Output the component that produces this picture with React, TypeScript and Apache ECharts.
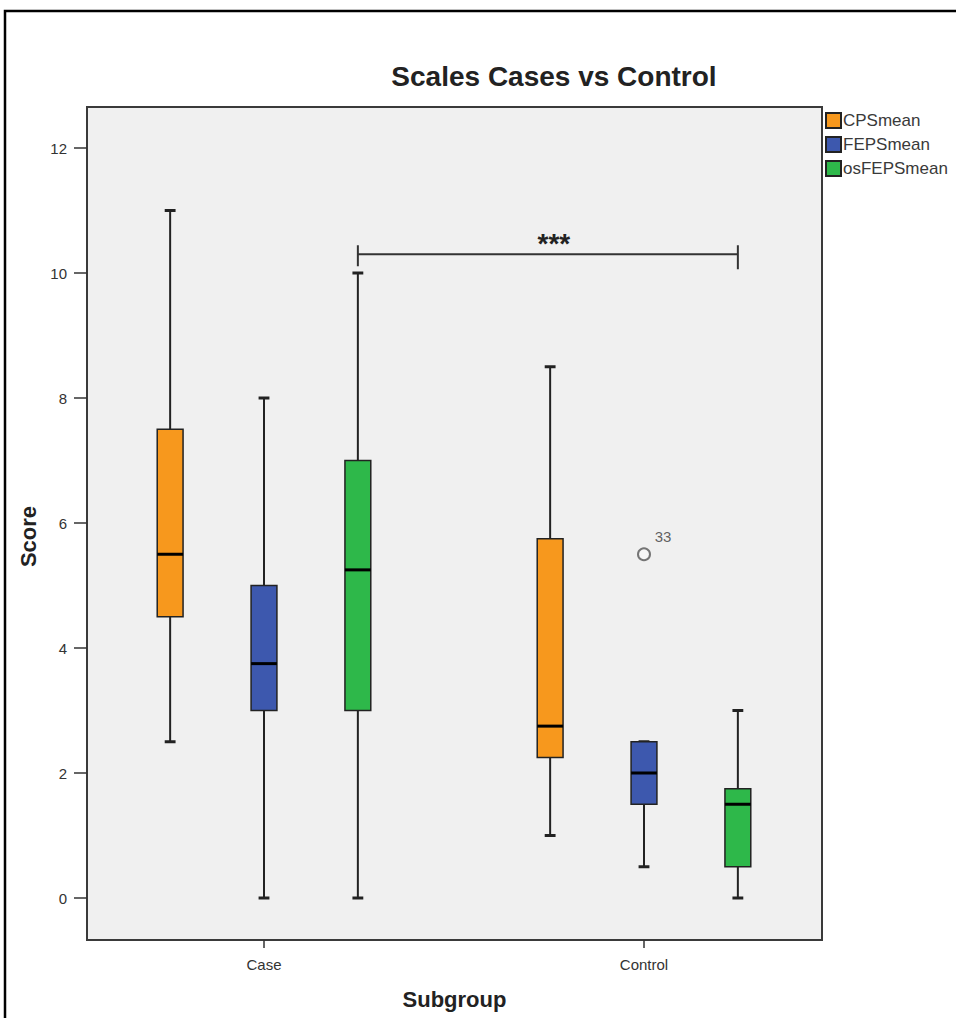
import React, { useEffect, useRef } from 'react';
import * as echarts from 'echarts';

// ---------------- data ----------------
const categories = ['Case', 'Control'];
const seriesNames = ['CPSmean', 'FEPSmean', 'osFEPSmean'];
const seriesColors = ['#F7981D', '#3D58AE', '#2EB84A'];
// [min, Q1, median, Q3, max] for Case, Control
const cpsStats = [
  [2.5, 4.5, 5.5, 7.5, 11],
  [1, 2.25, 2.75, 5.75, 8.5],
];
const fepsStats = [
  [0, 3, 3.75, 5, 8],
  [0.5, 1.5, 2, 2.5, 2.5],
];
const osfepsStats = [
  [0, 3, 5.25, 7, 10],
  [0, 0.5, 1.5, 1.75, 3],
];
const outlierCategory = ['Control'];
const outlierSeries = ['FEPSmean'];
const outlierValues = [5.5];
const outlierLabels = ['33'];
const yTicks = [0, 2, 4, 6, 8, 10, 12];
const sigFromCategory = 'Case';
const sigToCategory = 'Control';
const sigSeries = 'osFEPSmean';
const sigLevel = 10.3;
const sigText = '***';

// ---------------- layout helpers ----------------
const BOX_STEP = 0.247; // distance between boxes inside a cluster (axis units)
const BOX_W = 0.068; // box width (axis units)
const FONT = "'Liberation Sans', Arial, sans-serif";

const allStats = [cpsStats, fepsStats, osfepsStats];

function xPos(catIndex: number, seriesIndex: number) {
  return catIndex + 1 + (seriesIndex - 1) * BOX_STEP;
}

function boxRender(k: number) {
  return (params: any, api: any) => {
    const cat = api.value(0);
    const xv = xPos(cat, k);
    const vals = [1, 2, 3, 4, 5].map((i) => api.value(i));
    const [mn, q1, md, q3, mx] = vals;
    const xc = api.coord([xv, 0])[0];
    const hw = api.size([BOX_W, 0])[0] / 2;
    const y = (v: number) => api.coord([xv, v])[1];
    const capHw = hw * 0.42;
    const stroke = '#222';
    const children: any[] = [
      { type: 'line', shape: { x1: xc, y1: y(mx), x2: xc, y2: y(q3) }, style: { stroke, lineWidth: 2 } },
      { type: 'line', shape: { x1: xc, y1: y(q1), x2: xc, y2: y(mn) }, style: { stroke, lineWidth: 2 } },
      { type: 'line', shape: { x1: xc - capHw, y1: y(mx), x2: xc + capHw, y2: y(mx) }, style: { stroke, lineWidth: 3 } },
      { type: 'line', shape: { x1: xc - capHw, y1: y(mn), x2: xc + capHw, y2: y(mn) }, style: { stroke, lineWidth: 3 } },
      {
        type: 'rect',
        shape: { x: xc - hw, y: y(q3), width: hw * 2, height: y(q1) - y(q3) },
        style: { fill: seriesColors[k], stroke, lineWidth: 1.5 },
      },
      { type: 'line', shape: { x1: xc - hw, y1: y(md), x2: xc + hw, y2: y(md) }, style: { stroke: '#000', lineWidth: 3 } },
    ];
    return { type: 'group', children };
  };
}

export default function App() {
  const ref = useRef<HTMLDivElement>(null);

  useEffect(() => {
    if (!ref.current) return;
    const chart = echarts.init(ref.current, undefined, { renderer: 'svg' });

    const boxSeries = seriesNames.map((name, k) => ({
      name,
      type: 'custom',
      renderItem: boxRender(k),
      itemStyle: { color: seriesColors[k], borderColor: '#222', borderWidth: 1 },
      encode: { x: 0, y: [1, 2, 3, 4, 5] },
      data: allStats[k].map((s, i) => [i, ...s]),
      z: 3,
    }));

    const outlierData = outlierValues.map((v, i) => ({
      value: [xPos(categories.indexOf(outlierCategory[i]), seriesNames.indexOf(outlierSeries[i])), v],
      label: { formatter: outlierLabels[i] },
    }));

    const sigSeriesIdx = seriesNames.indexOf(sigSeries);
    const sigData = [
      [xPos(categories.indexOf(sigFromCategory), sigSeriesIdx), xPos(categories.indexOf(sigToCategory), sigSeriesIdx), sigLevel],
    ];

    const option: any = {
      animation: false,
      backgroundColor: '#ffffff',
      title: {
        text: 'Scales Cases vs Control',
        left: 549,
        top: 57,
        textAlign: 'center',
        textStyle: { fontFamily: FONT, fontSize: 28, fontWeight: 'bold', color: '#222' },
      },
      legend: {
        data: seriesNames,
        orient: 'vertical',
        left: 825,
        top: 112,
        padding: 0,
        itemWidth: 15,
        itemHeight: 15,
        itemGap: 7,
        icon: 'rect',
        textStyle: { fontFamily: FONT, fontSize: 17, lineHeight: 15, color: '#3a3a3a', padding: [0, 0, 0, -3] },
        selectedMode: false,
      },
      grid: {
        left: 87,
        right: 134,
        top: 107,
        bottom: 78,
        show: true,
        backgroundColor: '#F0F0F0',
        borderColor: '#3a3a3a',
        borderWidth: 2,
      },
      xAxis: {
        type: 'value',
        min: 1 - 177 / 380,
        max: 2 + 178 / 380,
        name: 'Subgroup',
        nameLocation: 'middle',
        nameGap: 48,
        nameTextStyle: { fontFamily: FONT, fontSize: 22, fontWeight: 'bold', color: '#222' },
        axisLine: { show: false, onZero: false },
        splitLine: { show: false },
        axisTick: { show: true, length: 8, customValues: [1, 2], lineStyle: { color: '#333', width: 1.5 } },
        axisLabel: {
          customValues: [1, 2],
          formatter: (v: number) => categories[Math.round(v) - 1] ?? '',
          margin: 17,
          fontFamily: FONT,
          fontSize: 15,
          color: '#333',
        },
      },
      yAxis: {
        type: 'value',
        min: -0.672,
        max: 12.656,
        name: 'Score',
        nameLocation: 'middle',
        nameGap: 40,
        nameTextStyle: { fontFamily: FONT, fontSize: 22, fontWeight: 'bold', color: '#222', padding: [0, 26, 0, 0] },
        axisLine: { show: false, onZero: false },
        splitLine: { show: false },
        axisTick: { show: true, length: 13, customValues: yTicks, lineStyle: { color: '#333', width: 1.5 } },
        axisLabel: { customValues: yTicks, margin: 20, fontFamily: FONT, fontSize: 15, color: '#333' },
      },
      graphic: [
        {
          type: 'rect',
          shape: { x: 5, y: 11, width: 1100, height: 1200 },
          style: { fill: 'none', stroke: '#000', lineWidth: 2.5 },
          silent: true,
          z: 100,
        },
      ],
      series: [
        ...boxSeries,
        {
          name: 'outliers',
          type: 'scatter',
          data: outlierData,
          symbol: 'circle',
          symbolSize: 12,
          itemStyle: { color: '#f8f8f8', borderColor: '#555', borderWidth: 2 },
          label: { show: true, position: 'top', distance: 3, offset: [19, 0], fontFamily: FONT, fontSize: 15, color: '#3a3a3a' },
          z: 4,
        },
        {
          name: 'significance',
          type: 'custom',
          data: sigData,
          encode: { x: [0, 1], y: 2 },
          renderItem: (params: any, api: any) => {
            const p1 = api.coord([api.value(0), api.value(2)]);
            const p2 = api.coord([api.value(1), api.value(2)]);
            const stroke = '#333';
            return {
              type: 'group',
              children: [
                { type: 'line', shape: { x1: p1[0], y1: p1[1], x2: p2[0], y2: p2[1] }, style: { stroke, lineWidth: 2 } },
                { type: 'line', shape: { x1: p1[0], y1: p1[1] - 9, x2: p1[0], y2: p1[1] + 12 }, style: { stroke, lineWidth: 2 } },
                { type: 'line', shape: { x1: p2[0], y1: p2[1] - 9, x2: p2[0], y2: p2[1] + 15 }, style: { stroke, lineWidth: 2 } },
                {
                  type: 'text',
                  x: (p1[0] + p2[0]) / 2 + 6,
                  y: p1[1] - 11,
                  style: {
                    text: sigText,
                    fill: '#222',
                    font: `bold 28px ${FONT}`,
                    textAlign: 'center',
                    textVerticalAlign: 'middle',
                  },
                },
              ],
            };
          },
          z: 5,
        },
      ],
    };

    chart.setOption(option);
    return () => chart.dispose();
  }, []);

  return (
    <div
      ref={ref}
      style={{ position: 'absolute', left: 0, top: 0, width: 956, height: 1018 }}
    />
  );
}
